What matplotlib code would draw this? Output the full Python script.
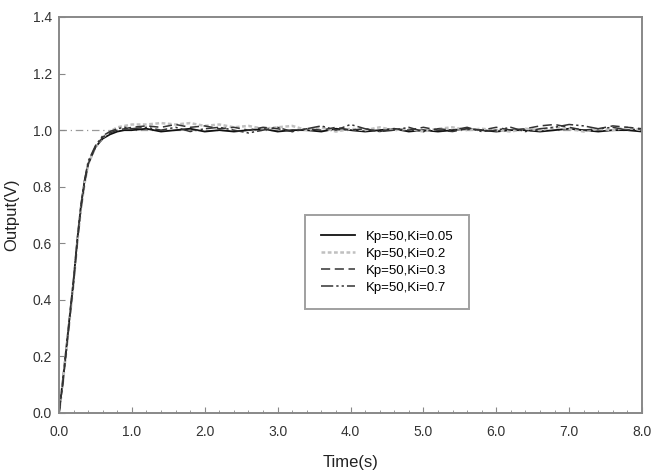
import matplotlib
matplotlib.use("Agg")
import matplotlib.pyplot as plt
from matplotlib.ticker import MultipleLocator

plt.rcParams['font.family'] = ['Liberation Sans', 'DejaVu Sans']

# time axis (s)
time = [0.0, 0.05, 0.1, 0.15, 0.2, 0.25, 0.3, 0.35, 0.4, 0.5, 0.6, 0.7, 0.8, 0.9, 1.0,
        1.2, 1.4, 1.6, 1.8, 2.0, 2.2, 2.4, 2.6, 2.8, 3.0, 3.2, 3.4, 3.6, 3.8, 4.0,
        4.2, 4.4, 4.6, 4.8, 5.0, 5.2, 5.4, 5.6, 5.8, 6.0, 6.2, 6.4, 6.6, 6.8, 7.0,
        7.2, 7.4, 7.6, 7.8, 8.0]

ki_005 = [0.0, 0.11, 0.23, 0.35, 0.47, 0.61, 0.73, 0.82, 0.88, 0.94, 0.97, 0.985, 0.995, 1.0, 1.0,
          1.005, 0.995, 1.0, 1.005, 0.995, 1.0, 0.995, 1.0, 1.005, 0.995, 1.0, 1.0, 0.995, 1.005, 1.0,
          0.995, 1.0, 1.005, 0.995, 1.0, 0.995, 1.0, 1.005, 1.0, 0.995, 1.0, 1.0, 0.995, 1.0, 1.005,
          1.0, 0.995, 1.0, 1.0, 0.995]

ki_02 = [0.0, 0.1, 0.22, 0.34, 0.46, 0.6, 0.72, 0.81, 0.88, 0.94, 0.975, 0.995, 1.01, 1.015, 1.02,
         1.02, 1.025, 1.02, 1.025, 1.015, 1.02, 1.01, 1.015, 1.005, 1.01, 1.015, 1.0, 1.01, 0.995, 1.005,
         1.0, 1.01, 1.0, 1.005, 0.995, 1.005, 1.01, 1.0, 1.005, 1.0, 0.995, 1.005, 1.0, 1.01, 1.005,
         0.995, 1.005, 1.0, 1.01, 1.0]

ki_03 = [0.0, 0.1, 0.22, 0.34, 0.46, 0.6, 0.72, 0.81, 0.88, 0.94, 0.975, 0.99, 1.0, 1.005, 1.01,
         1.015, 1.01, 1.02, 1.01, 1.015, 1.005, 1.01, 1.0, 1.01, 1.005, 0.995, 1.005, 1.0, 1.01, 1.0,
         1.005, 0.995, 1.005, 1.0, 1.01, 1.0, 0.995, 1.005, 1.0, 1.01, 1.0, 1.005, 1.015, 1.02, 1.01,
         1.0, 1.005, 1.015, 1.01, 1.005]

ki_07 = [0.0, 0.1, 0.22, 0.35, 0.47, 0.61, 0.73, 0.82, 0.89, 0.945, 0.98, 0.995, 1.005, 1.01, 1.005,
         1.01, 1.0, 1.01, 0.995, 1.005, 1.01, 1.0, 0.99, 1.0, 1.01, 0.995, 1.005, 1.015, 1.0, 1.02,
         1.005, 0.995, 1.0, 1.01, 0.995, 1.005, 1.0, 1.01, 0.995, 1.0, 1.01, 0.995, 1.005, 1.01, 1.02,
         1.015, 1.005, 1.01, 1.0, 1.005]

labels = ["Kp=50,Ki=0.05", "Kp=50,Ki=0.2", "Kp=50,Ki=0.3", "Kp=50,Ki=0.7"]
xtick_labels = ["0.0", "1.0", "2.0", "3.0", "4.0", "5.0", "6.0", "7.0", "8.0"]
ytick_labels = ["0.0", "0.2", "0.4", "0.6", "0.8", "1.0", "1.2", "1.4"]

fig = plt.figure(figsize=(6.58, 4.70), dpi=100)
ax = fig.add_axes([59/658, 1 - 413/470, (642-59)/658, (413-17)/470])

ax.axhline(1.0, color='#999999', lw=0.9, ls=(0, (6, 3, 1, 3)), zorder=1)

ax.plot(time, ki_005, color='#111111', lw=1.3, ls='-', label=labels[0])
ax.plot(time, ki_02, color='#c0c0c0', lw=1.8, ls=(0, (1.5, 1)), label=labels[1])
ax.plot(time, ki_03, color='#333333', lw=1.1, ls=(0, (6, 3)), label=labels[2])
ax.plot(time, ki_07, color='#333333', lw=1.1, ls=(0, (8, 2, 1.5, 2, 1.5, 2)), label=labels[3])

ax.set_xlim(0, 8.0)
ax.set_ylim(0, 1.4)
ax.set_xticks([float(s) for s in xtick_labels])
ax.set_xticklabels(xtick_labels)
ax.xaxis.set_minor_locator(MultipleLocator(0.2))
ax.set_yticks([float(s) for s in ytick_labels])
ax.set_yticklabels(ytick_labels)

for s in ax.spines.values():
    s.set_color('#888888')
    s.set_linewidth(1.4)
ax.tick_params(which='both', direction='in', colors='#888888', labelcolor='#333333',
               labelsize=10)
ax.tick_params(which='major', length=4)
ax.tick_params(which='minor', length=2.5)
ax.tick_params(axis='x', pad=9)
ax.tick_params(axis='y', pad=5)

ax.set_xlabel("Time(s)", fontsize=12, color='#222222', labelpad=11)
ax.set_ylabel("Output(V)", fontsize=12, color='#222222', labelpad=10)

leg = ax.legend(loc='upper left', bbox_to_anchor=((305-59)/(642-59), (413-215)/(413-17)),
                fontsize=9.5, frameon=True, fancybox=False, edgecolor='#888888',
                handlelength=2.6, handletextpad=0.8, borderpad=1.2, labelspacing=0.35,
                borderaxespad=0)
leg.get_frame().set_linewidth(1.4)

fig.savefig("out.png", dpi=100)
